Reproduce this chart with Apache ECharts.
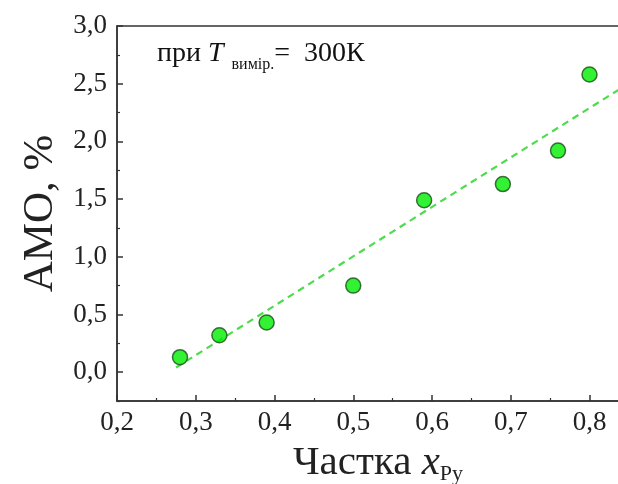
<!DOCTYPE html>
<html><head><meta charset="utf-8">
<script src="https://cdn.jsdelivr.net/npm/echarts@6/dist/echarts.min.js"></script>
<style>html,body{margin:0;padding:0;background:#fff}#c{width:618px;height:484px}</style>
</head><body><div id="c"></div>
<script>
const xValues = [0.28, 0.33, 0.39, 0.50, 0.59, 0.69, 0.76, 0.80];
const yValues = [0.13, 0.32, 0.43, 0.75, 1.49, 1.63, 1.92, 2.58];
const fitX = [0.275, 0.84];
const fitY = [0.04, 2.46];
const xMajorTicks = [0.2, 0.3, 0.4, 0.5, 0.6, 0.7, 0.8];
const xMinorTicks = [0.25, 0.35, 0.45, 0.55, 0.65, 0.75];
const yMajorTicks = [0, 0.5, 1.0, 1.5, 2.0, 2.5, 3.0];
const yMinorTicks = [-0.25, 0.25, 0.75, 1.25, 1.75, 2.25, 2.75];

const font = 'Liberation Serif';
const axisColor = '#333';
const fmt = v => v.toFixed(1).replace('.', ',');

const chart = echarts.init(document.getElementById('c'), null, {renderer: 'canvas'});
const baseX = {type: 'value', min: 0.2, max: 0.84, gridIndex: 0, splitLine: {show: false}};
const baseY = {type: 'value', min: -0.25, max: 3.0, gridIndex: 0, splitLine: {show: false}};
chart.setOption({
  animation: false,
  backgroundColor: '#fff',
  grid: {left: 117, top: 26, width: 504, height: 375, show: true, borderColor: axisColor, borderWidth: 1.5, backgroundColor: 'transparent', containLabel: false, outerBoundsMode: 'none'},
  xAxis: [
    Object.assign({}, baseX, {
      position: 'bottom',
      axisLine: {show: true, onZero: false, lineStyle: {color: axisColor, width: 1.5}},
      axisTick: {show: true, inside: true, length: 6, customValues: xMajorTicks, lineStyle: {color: axisColor, width: 1.5}},
      axisLabel: {show: true, customValues: xMajorTicks, formatter: fmt, fontFamily: font, fontSize: 27, color: '#222', margin: 8},
      name: '{a|Частка }{i|x}{s|Py}',
      nameLocation: 'middle', nameGap: 40,
      nameTextStyle: {padding: [0, 0, 0, 18], rich: {
        a: {fontFamily: font, fontSize: 41, color: '#222'},
        i: {fontFamily: font, fontSize: 41, fontStyle: 'italic', color: '#222'},
        s: {fontFamily: font, fontSize: 22, color: '#222', padding: [22, 0, 0, 0]}
      }}
    }),
    Object.assign({}, baseX, {
      position: 'bottom',
      axisLine: {show: false, onZero: false},
      axisTick: {show: true, inside: true, length: 3, customValues: xMinorTicks, lineStyle: {color: axisColor, width: 1.2}},
      axisLabel: {show: false}
    })
  ],
  yAxis: [
    Object.assign({}, baseY, {
      position: 'left',
      axisLine: {show: true, onZero: false, lineStyle: {color: axisColor, width: 1.5}},
      axisTick: {show: true, inside: true, length: 6, customValues: yMajorTicks, lineStyle: {color: axisColor, width: 1.5}},
      axisLabel: {show: true, customValues: yMajorTicks, formatter: fmt, fontFamily: font, fontSize: 27, color: '#222', margin: 10},
      name: 'АМО, %',
      nameLocation: 'middle', nameGap: 52, nameRotate: 90,
      nameTextStyle: {fontFamily: font, fontSize: 43, color: '#222'}
    }),
    Object.assign({}, baseY, {
      position: 'left',
      axisLine: {show: false, onZero: false},
      axisTick: {show: true, inside: true, length: 3, customValues: yMinorTicks, lineStyle: {color: axisColor, width: 1.2}},
      axisLabel: {show: false}
    })
  ],
  graphic: [{
    type: 'text', left: 157, top: 40, z: 10,
    style: {
      text: '{a|при }{i|T}{s|  вимір.}{a|=  300К}',
      rich: {
        a: {fontFamily: font, fontSize: 28, fill: '#111'},
        i: {fontFamily: font, fontSize: 28, fontStyle: 'italic', fill: '#111'},
        s: {fontFamily: font, fontSize: 16, fill: '#111', padding: [22, 0, 0, 0]}
      }
    }
  }],
  series: [
    {
      type: 'line', xAxisIndex: 0, yAxisIndex: 0,
      data: fitX.map((x, i) => [x, fitY[i]]),
      symbol: 'none', z: 2,
      lineStyle: {color: '#4ddc4d', width: 2.2, type: [7, 5]}
    },
    {
      type: 'scatter', xAxisIndex: 0, yAxisIndex: 0,
      data: xValues.map((x, i) => [x, yValues[i]]),
      symbol: 'circle', symbolSize: 15, z: 3,
      itemStyle: {color: '#00ee00', borderColor: '#1a4d1a', borderWidth: 1.5}
    }
  ]
});
</script></body></html>
